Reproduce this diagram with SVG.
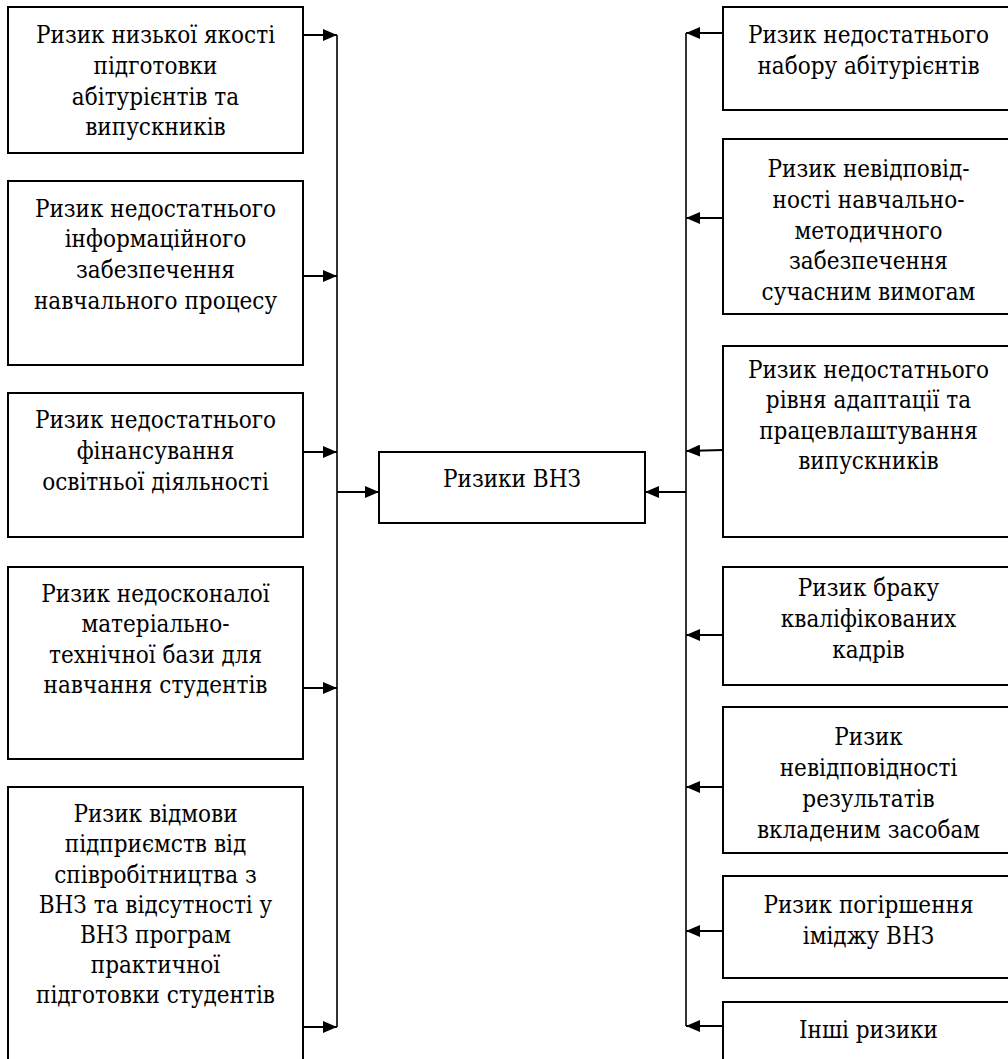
<svg xmlns="http://www.w3.org/2000/svg" width="1008" height="1059" viewBox="0 0 1008 1059">
<defs>
<style>
.box{fill:#fff;stroke:#000;stroke-width:2}
.t{font-family:"DejaVu Serif Condensed","DejaVu Serif",serif;font-stretch:condensed;font-size:24px;fill:#000;text-anchor:middle}
.c{fill:none;stroke:#000;stroke-width:2}
.v{fill:none;stroke:#000;stroke-width:1.6}
</style>
<marker id="ah" markerUnits="userSpaceOnUse" markerWidth="14" markerHeight="12" refX="14" refY="6" orient="auto">
<path d="M0,0 L14,6 L0,12 Z" fill="#000"/>
</marker>
</defs>
<rect width="1008" height="1059" fill="#fff"/>

<g id="connectors">
<line class="v" x1="337" y1="35" x2="337" y2="1027"/>
<line class="v" x1="686" y1="33" x2="686" y2="1026"/>
<line class="c" x1="303" y1="35" x2="337" y2="35" marker-end="url(#ah)"/>
<line class="c" x1="303" y1="276" x2="337" y2="276" marker-end="url(#ah)"/>
<line class="c" x1="303" y1="452" x2="337" y2="452" marker-end="url(#ah)"/>
<line class="c" x1="303" y1="688" x2="337" y2="688" marker-end="url(#ah)"/>
<line class="c" x1="303" y1="1027" x2="337" y2="1027" marker-end="url(#ah)"/>
<line class="c" x1="337" y1="492" x2="379" y2="492" marker-end="url(#ah)"/>
<line class="c" x1="686" y1="492" x2="645" y2="492" marker-end="url(#ah)"/>
<line class="c" x1="723" y1="33" x2="686" y2="33" marker-end="url(#ah)"/>
<line class="c" x1="723" y1="218" x2="686" y2="218" marker-end="url(#ah)"/>
<line class="c" x1="723" y1="450" x2="686" y2="451" marker-end="url(#ah)"/>
<line class="c" x1="723" y1="635" x2="686" y2="635" marker-end="url(#ah)"/>
<line class="c" x1="723" y1="787" x2="686" y2="787" marker-end="url(#ah)"/>
<line class="c" x1="723" y1="931" x2="686" y2="931" marker-end="url(#ah)"/>
<line class="c" x1="723" y1="1026" x2="686" y2="1026" marker-end="url(#ah)"/>
</g>

<g id="center">
<rect class="box" x="379" y="452" width="266" height="71"/>
<text class="t" x="512" y="487">Ризики ВНЗ</text>
</g>

<g id="l1">
<rect class="box" x="8" y="7" width="295" height="146"/>
<text class="t"><tspan x="155.5" y="43">Ризик низької якості</tspan><tspan x="155.5" y="74">підготовки</tspan><tspan x="155.5" y="105">абітурієнтів та</tspan><tspan x="155.5" y="135">випускників</tspan></text>
</g>
<g id="l2">
<rect class="box" x="8" y="181" width="295" height="184"/>
<text class="t"><tspan x="155.5" y="217">Ризик недостатнього</tspan><tspan x="155.5" y="247">інформаційного</tspan><tspan x="155.5" y="278">забезпечення</tspan><tspan x="155.5" y="309">навчального процесу</tspan></text>
</g>
<g id="l3">
<rect class="box" x="8" y="393" width="295" height="144"/>
<text class="t"><tspan x="155.5" y="428">Ризик недостатнього</tspan><tspan x="155.5" y="459">фінансування</tspan><tspan x="155.5" y="490">освітньої діяльності</tspan></text>
</g>
<g id="l4">
<rect class="box" x="8" y="567" width="295" height="192"/>
<text class="t"><tspan x="155.5" y="602">Ризик недосконалої</tspan><tspan x="155.5" y="632">матеріально-</tspan><tspan x="155.5" y="663">технічної бази для</tspan><tspan x="155.5" y="693">навчання студентів</tspan></text>
</g>
<g id="l5">
<rect class="box" x="8" y="787" width="295" height="290"/>
<text class="t"><tspan x="155.5" y="822">Ризик відмови</tspan><tspan x="155.5" y="852">підприємств від</tspan><tspan x="155.5" y="883">співробітництва з</tspan><tspan x="155.5" y="913">ВНЗ та відсутності у</tspan><tspan x="155.5" y="943">ВНЗ програм</tspan><tspan x="155.5" y="973">практичної</tspan><tspan x="155.5" y="1003">підготовки студентів</tspan></text>
</g>

<g id="r1">
<rect class="box" x="723" y="7" width="291" height="103"/>
<text class="t"><tspan x="868.5" y="43">Ризик недостатнього</tspan><tspan x="868.5" y="74">набору абітурієнтів</tspan></text>
</g>
<g id="r2">
<rect class="box" x="723" y="139" width="291" height="175"/>
<text class="t"><tspan x="868.5" y="177">Ризик невідповід-</tspan><tspan x="868.5" y="208">ності навчально-</tspan><tspan x="868.5" y="239">методичного</tspan><tspan x="868.5" y="269">забезпечення</tspan><tspan x="868.5" y="300">сучасним вимогам</tspan></text>
</g>
<g id="r3">
<rect class="box" x="723" y="346" width="291" height="191"/>
<text class="t"><tspan x="868.5" y="378">Ризик недостатнього</tspan><tspan x="868.5" y="408">рівня адаптації та</tspan><tspan x="868.5" y="439">працевлаштування</tspan><tspan x="868.5" y="469">випускників</tspan></text>
</g>
<g id="r4">
<rect class="box" x="723" y="567" width="291" height="118"/>
<text class="t"><tspan x="868.5" y="596">Ризик браку</tspan><tspan x="868.5" y="627">кваліфікованих</tspan><tspan x="868.5" y="658">кадрів</tspan></text>
</g>
<g id="r5">
<rect class="box" x="723" y="707" width="291" height="146"/>
<text class="t"><tspan x="868.5" y="745">Ризик</tspan><tspan x="868.5" y="776">невідповідності</tspan><tspan x="868.5" y="807">результатів</tspan><tspan x="868.5" y="838">вкладеним засобам</tspan></text>
</g>
<g id="r6">
<rect class="box" x="723" y="876" width="291" height="102"/>
<text class="t"><tspan x="868.5" y="913">Ризик погіршення</tspan><tspan x="868.5" y="944">іміджу ВНЗ</tspan></text>
</g>
<g id="r7">
<rect class="box" x="723" y="1002" width="291" height="80"/>
<text class="t"><tspan x="868.5" y="1038">Інші ризики</tspan></text>
</g>
</svg>
